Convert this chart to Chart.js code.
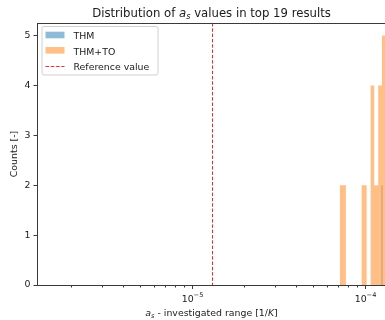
<!DOCTYPE html>
<html>
<head>
<meta charset="utf-8">
<script src="https://cdn.jsdelivr.net/npm/chart.js@4.4.0/dist/chart.umd.min.js"></script>
<style>
  html, body { margin: 0; padding: 0; overflow: hidden; background: #fff; width: 385px; height: 320px; }
  canvas { display: block; }
</style>
</head>
<body>
<canvas id="chart" width="392" height="320"></canvas>
<script>
// THM+TO histogram: counts[i] covers edges[i] .. edges[i+1]
const thmToEdges = [7.16e-5, 7.76e-5, 9.57e-5, 1.023e-4, 1.079e-4, 1.132e-4, 1.194e-4, 1.254e-4, 1.324e-4];
const thmToCounts = [2, 0, 2, 0, 4, 2, 4, 5];
// THM histogram
const thmEdges = [1.243e-4, 1.267e-4];
const thmCounts = [2];
// Reference value of a_s [1/K]
const referenceValue = 1.304e-5;
// Axis ranges and ticks
const xMin = 1.266e-6;
const xMax = 1.324e-4;
const xMajorTicks = [1e-5, 1e-4];
const xMinorMantissas = [2, 3, 4, 5, 6, 7, 8, 9];
const yTicks = [0, 1, 2, 3, 4, 5];
const yMax = 5.25;
const seriesNames = ['THM', 'THM+TO'];
const referenceName = 'Reference value';

const FONT = "'DejaVu Sans', sans-serif";
const TEXT = '#1a1a1a';
const SPINE = '#3a3a3a';
const BLUE = 'rgba(31,119,180,0.5)';
const ORANGE = 'rgba(255,127,14,0.5)';
const RED = '#ee2a2a';

// Turn bin edges + counts into the corner points of a step outline
function stepPoints(edges, counts) {
  const pts = counts.map((c, i) => ({ x: edges[i], y: c }));
  pts.push({ x: edges[edges.length - 1], y: 0 });
  return pts;
}

// Draw a run of text pieces (normal / italic / subscript / superscript) starting at x
function drawRich(ctx, parts, x, baseY, size, align) {
  const fontOf = p => `${p.italic ? 'italic ' : ''}${(p.scale || 1) * size}px ${FONT}`;
  let total = 0;
  parts.forEach(p => { ctx.font = fontOf(p); total += ctx.measureText(p.text).width; });
  let cx = align === 'center' ? x - total / 2 : x;
  ctx.textAlign = 'left';
  ctx.textBaseline = 'alphabetic';
  parts.forEach(p => {
    ctx.font = fontOf(p);
    ctx.fillText(p.text, cx, baseY + (p.dy || 0) * size);
    cx += ctx.measureText(p.text).width;
  });
}

const decorations = {
  id: 'decorations',
  afterDatasetsDraw(chart) {
    const { ctx, chartArea: a, scales: { x } } = chart;
    // reference line spanning the full height
    const rx = Math.round(x.getPixelForValue(referenceValue)) + 0.5;
    ctx.save();
    ctx.strokeStyle = RED;
    ctx.lineWidth = 1;
    ctx.setLineDash([3.5, 1.8]);
    ctx.beginPath();
    ctx.moveTo(rx, a.top);
    ctx.lineTo(rx, a.bottom);
    ctx.stroke();
    ctx.restore();
  },
  afterDraw(chart) {
    const { ctx, chartArea: a, scales: { x } } = chart;
    ctx.save();
    // axes frame
    ctx.strokeStyle = SPINE;
    ctx.lineWidth = 1;
    ctx.strokeRect(Math.round(a.left) + 0.5, Math.round(a.top) + 0.5,
      Math.round(a.right - a.left), Math.round(a.bottom - a.top));

    // x ticks: major decades and minor multiples
    const by = Math.round(a.bottom) + 0.5;
    const tick = (v, len) => {
      const px = Math.round(x.getPixelForValue(v)) + 0.5;
      ctx.beginPath();
      ctx.moveTo(px, by);
      ctx.lineTo(px, by + len);
      ctx.stroke();
      return px;
    };
    const firstDecade = Math.floor(Math.log10(xMin));
    const lastDecade = Math.ceil(Math.log10(xMax));
    for (let d = firstDecade; d <= lastDecade; d++) {
      xMinorMantissas.forEach(m => {
        const v = m * Math.pow(10, d);
        if (v >= xMin && v <= xMax) tick(v, 2);
      });
    }
    ctx.fillStyle = TEXT;
    xMajorTicks.forEach(v => {
      const px = tick(v, 3.5);
      const exp = Math.round(Math.log10(v));
      drawRich(ctx, [
        { text: '10' },
        { text: '\u2212' + Math.abs(exp), scale: 0.7, dy: -0.45 }
      ], px, a.bottom + 16.5, 9.4, 'center');
    });

    // title
    const cx = (a.left + a.right) / 2;
    drawRich(ctx, [
      { text: 'Distribution of ' },
      { text: 'a', italic: true },
      { text: 's', italic: true, scale: 0.7, dy: 0.2 },
      { text: ' values in top 19 results' }
    ], cx, 16.5, 11.7, 'center');

    // x axis label
    drawRich(ctx, [
      { text: 'a', italic: true },
      { text: 's', italic: true, scale: 0.7, dy: 0.2 },
      { text: ' - investigated range [1/' },
      { text: 'K', italic: true },
      { text: ']' }
    ], cx, 316, 9.4, 'center');

    // y axis label
    ctx.save();
    ctx.translate(17, (a.top + a.bottom) / 2);
    ctx.rotate(-Math.PI / 2);
    ctx.font = `9.4px ${FONT}`;
    ctx.textAlign = 'center';
    ctx.textBaseline = 'alphabetic';
    ctx.fillText('Counts [-]', 0, 0);
    ctx.restore();

    // legend box
    const lx = a.left + 4.5, ly = a.top + 3, lw = 116, lh = 48.5, r = 2;
    ctx.fillStyle = 'rgba(255,255,255,0.8)';
    ctx.strokeStyle = '#d0d0d0';
    ctx.beginPath();
    ctx.roundRect(lx + 0.5, ly + 0.5, lw, lh, r);
    ctx.fill();
    ctx.stroke();
    const rows = [
      { name: seriesNames[0], kind: 'patch', color: BLUE },
      { name: seriesNames[1], kind: 'patch', color: ORANGE },
      { name: referenceName, kind: 'line', color: RED }
    ];
    rows.forEach((row, i) => {
      const yc = ly + 9 + i * 15.3;
      if (row.kind === 'patch') {
        ctx.fillStyle = row.color;
        ctx.fillRect(lx + 4, yc - 3.3, 19, 6.6);
      } else {
        ctx.strokeStyle = row.color;
        ctx.setLineDash([3.5, 1.8]);
        ctx.beginPath();
        ctx.moveTo(lx + 4, Math.round(yc) + 0.5);
        ctx.lineTo(lx + 23, Math.round(yc) + 0.5);
        ctx.stroke();
        ctx.setLineDash([]);
      }
      ctx.fillStyle = TEXT;
      ctx.font = `9.4px ${FONT}`;
      ctx.textAlign = 'left';
      ctx.textBaseline = 'alphabetic';
      ctx.fillText(row.name, lx + 32, yc + 4.3);
    });
    ctx.restore();
  }
};

new Chart(document.getElementById('chart'), {
  type: 'line',
  data: {
    datasets: [
      {
        label: seriesNames[1],
        data: stepPoints(thmToEdges, thmToCounts),
        stepped: 'before',
        fill: 'origin',
        backgroundColor: ORANGE,
        borderWidth: 0,
        pointRadius: 0,
        order: 1
      },
      {
        label: seriesNames[0],
        data: stepPoints(thmEdges, thmCounts),
        stepped: 'before',
        fill: 'origin',
        backgroundColor: BLUE,
        borderWidth: 0,
        pointRadius: 0,
        order: 2
      }
    ]
  },
  options: {
    responsive: false,
    animation: false,
    devicePixelRatio: 1,
    layout: { padding: { left: 0, top: 23, right: 6, bottom: 0 } },
    plugins: { legend: { display: false }, title: { display: false }, tooltip: { enabled: false } },
    scales: {
      x: {
        type: 'logarithmic',
        min: xMin,
        max: xMax,
        grid: { display: false },
        border: { display: false },
        ticks: { display: false },
        afterFit: s => { s.height = 35; }
      },
      y: {
        type: 'linear',
        min: 0,
        max: yMax,
        afterBuildTicks: s => { s.ticks = yTicks.map(v => ({ value: v })); },
        grid: { drawOnChartArea: false, drawTicks: true, tickLength: 3.5, tickColor: SPINE, color: SPINE },
        border: { display: false },
        ticks: {
          padding: 3,
          color: TEXT,
          font: { family: 'DejaVu Sans', size: 9.4 },
          callback: v => String(v)
        },
        afterFit: s => { s.width = 37; }
      }
    }
  },
  plugins: [decorations]
});
</script>
</body>
</html>
